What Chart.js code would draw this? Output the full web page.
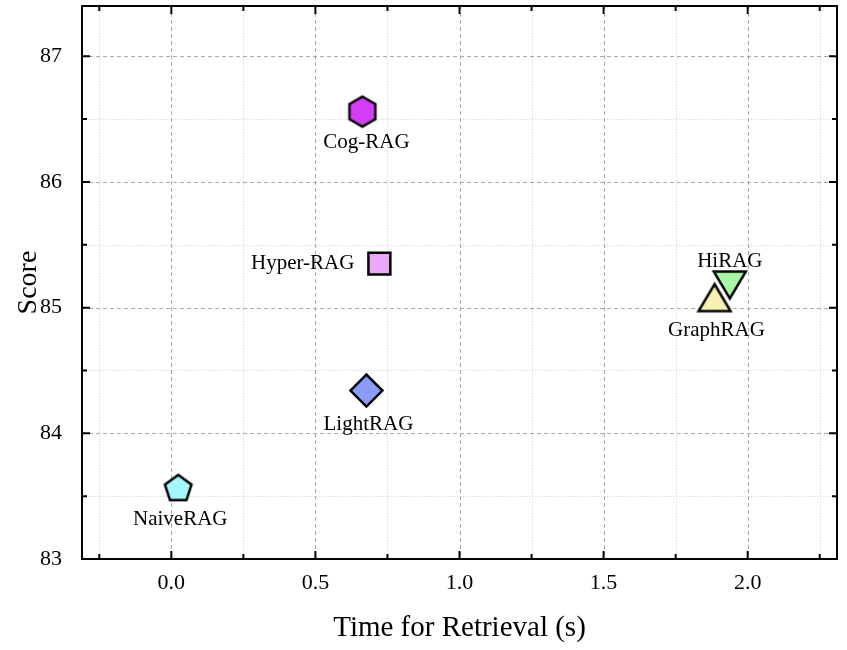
<!DOCTYPE html>
<html>
<head>
<meta charset="utf-8">
<script src="https://cdn.jsdelivr.net/npm/chart.js@4.4.1/dist/chart.umd.min.js"></script>
<style>
  html, body { margin: 0; padding: 0; background: #fff; }
  #box { width: 847px; height: 650px; }
</style>
</head>
<body>
<div id="box"><canvas id="grafico"></canvas></div>
<script>
// dados
const metodos = ["NaiveRAG", "LightRAG", "Hyper-RAG", "Cog-RAG", "GraphRAG", "HiRAG"];
const tempoRecuperacao = [0.024, 0.677, 0.722, 0.663, 1.885, 1.938];
const pontuacao = [83.57, 84.34, 85.35, 86.56, 85.08, 85.18];
const ticksX = [0, 0.5, 1, 1.5, 2];
const ticksY = [83, 84, 85, 86, 87];
const ticksXMenor = [-0.25, 0.25, 0.75, 1.25, 1.75, 2.25];
const ticksYMenor = [83.5, 84.5, 85.5, 86.5];

// estilo de cada marcador
const cores = ["#a6f7fb", "#8b9cf8", "#eaa8f7", "#d43ef6", "#f7f1b5", "#a8f7ab"];
const formas = ["pentagono", "rectRot", "rect", "hexagono", "trianguloCima", "trianguloBaixo"];
const raios = [14, 16, 15.5, 15, 16, 16];
// posição do rótulo em relação ao ponto (dx, dy)
const rotulosPos = [[2, 32], [2, 34], [-25, 0], [4, 31], [2, 33], [0, -24]];

const fonte = "'Liberation Serif', 'DejaVu Serif', serif";

function criaPoligono(lados, raio, cor) {
  const tam = raio * 2 + 6;
  const c = document.createElement("canvas");
  c.width = tam;
  c.height = tam;
  const ctx = c.getContext("2d");
  ctx.beginPath();
  for (let i = 0; i < lados; i++) {
    const ang = -Math.PI / 2 + (i * 2 * Math.PI) / lados;
    const px = tam / 2 + raio * Math.cos(ang);
    const py = tam / 2 + raio * Math.sin(ang) + (lados === 5 ? 1.5 : 0);
    if (i === 0) ctx.moveTo(px, py);
    else ctx.lineTo(px, py);
  }
  ctx.closePath();
  ctx.fillStyle = cor;
  ctx.fill();
  ctx.lineWidth = 2.5;
  ctx.strokeStyle = "#000";
  ctx.stroke();
  return c;
}

// triângulo centrado pela caixa, como no matplotlib
function criaTriangulo(raio, cor, paraBaixo) {
  const tam = raio * 2 + 6;
  const c = document.createElement("canvas");
  c.width = tam;
  c.height = tam;
  const ctx = c.getContext("2d");
  const m = tam / 2;
  const h = raio * 0.84;
  const s = paraBaixo ? -1 : 1;
  ctx.beginPath();
  ctx.moveTo(m, m - s * h);
  ctx.lineTo(m - raio, m + s * h);
  ctx.lineTo(m + raio, m + s * h);
  ctx.closePath();
  ctx.fillStyle = cor;
  ctx.fill();
  ctx.lineWidth = 2.5;
  ctx.strokeStyle = "#000";
  ctx.stroke();
  return c;
}

const datasets = metodos.map((nome, i) => {
  let estilo = formas[i];
  if (estilo === "pentagono") estilo = criaPoligono(5, raios[i], cores[i]);
  if (estilo === "hexagono") estilo = criaPoligono(6, raios[i], cores[i]);
  if (estilo === "trianguloCima") estilo = criaTriangulo(raios[i], cores[i], false);
  if (estilo === "trianguloBaixo") estilo = criaTriangulo(raios[i], cores[i], true);
  return {
    label: nome,
    data: [{ x: tempoRecuperacao[i], y: pontuacao[i] }],
    pointStyle: estilo,
    radius: raios[i],
    hoverRadius: raios[i],
    backgroundColor: cores[i],
    borderColor: "#000",
    borderWidth: 2.5,
  };
});

const moldura = {
  id: "moldura",
  beforeDatasetsDraw(chart) {
    const { ctx, chartArea: a, scales } = chart;
    const sx = scales.x, sy = scales.y;
    ctx.save();
    ctx.lineWidth = 1;
    // grade menor pontilhada
    ctx.strokeStyle = "#dcdcdc";
    ctx.setLineDash([1.5, 1.5]);
    ticksXMenor.forEach((v) => {
      const px = Math.round(sx.getPixelForValue(v)) + 0.5;
      ctx.beginPath(); ctx.moveTo(px, a.top); ctx.lineTo(px, a.bottom); ctx.stroke();
    });
    ticksYMenor.forEach((v) => {
      const py = Math.round(sy.getPixelForValue(v)) + 0.5;
      ctx.beginPath(); ctx.moveTo(a.left, py); ctx.lineTo(a.right, py); ctx.stroke();
    });
    // grade maior tracejada
    ctx.strokeStyle = "#a8a8a8";
    ctx.setLineDash([4, 3]);
    ticksX.forEach((v) => {
      const px = Math.round(sx.getPixelForValue(v)) + 0.5;
      ctx.beginPath(); ctx.moveTo(px, a.top); ctx.lineTo(px, a.bottom); ctx.stroke();
    });
    ticksY.forEach((v) => {
      const py = Math.round(sy.getPixelForValue(v)) + 0.5;
      ctx.beginPath(); ctx.moveTo(a.left, py); ctx.lineTo(a.right, py); ctx.stroke();
    });
    ctx.restore();
  },
  afterDraw(chart) {
    const { ctx, chartArea: a, scales } = chart;
    const sx = scales.x, sy = scales.y;
    ctx.save();
    ctx.strokeStyle = "#000";
    ctx.setLineDash([]);
    ctx.lineWidth = 2;
    ctx.strokeRect(a.left, a.top, a.right - a.left, a.bottom - a.top);
    // marcas para dentro nos quatro lados
    const marca = (lista, comp) => {
      lista.forEach((v) => {
        const px = sx.getPixelForValue(v);
        ctx.beginPath();
        ctx.moveTo(px, a.bottom); ctx.lineTo(px, a.bottom - comp);
        ctx.moveTo(px, a.top); ctx.lineTo(px, a.top + comp);
        ctx.stroke();
      });
    };
    const marcaY = (lista, comp) => {
      lista.forEach((v) => {
        const py = sy.getPixelForValue(v);
        ctx.beginPath();
        ctx.moveTo(a.left, py); ctx.lineTo(a.left + comp, py);
        ctx.moveTo(a.right, py); ctx.lineTo(a.right - comp, py);
        ctx.stroke();
      });
    };
    marca(ticksX, 8);
    marca(ticksXMenor, 5);
    marcaY(ticksY.filter((v) => v > 83), 8);
    marcaY(ticksYMenor, 5);
    ctx.restore();
  },
  afterDatasetsDraw(chart) {
    const { ctx } = chart;
    ctx.save();
    ctx.font = "21px " + fonte;
    ctx.fillStyle = "#000";
    ctx.textBaseline = "middle";
    metodos.forEach((nome, i) => {
      const el = chart.getDatasetMeta(i).data[0];
      const [dx, dy] = rotulosPos[i];
      ctx.textAlign = dx < -20 ? "right" : "center";
      ctx.fillText(nome, el.x + dx, el.y + dy);
    });
    ctx.restore();
  },
};

new Chart(document.getElementById("grafico"), {
  type: "scatter",
  data: { datasets },
  plugins: [moldura],
  options: {
    responsive: true,
    maintainAspectRatio: false,
    animation: false,
    layout: { autoPadding: false, padding: { left: 0, right: 10, top: 6, bottom: 0 } },
    plugins: {
      legend: { display: false },
      tooltip: { enabled: false },
    },
    scales: {
      x: {
        type: "linear",
        min: -0.31,
        max: 2.31,
        afterBuildTicks: (s) => { s.ticks = ticksX.map((v) => ({ value: v })); },
        afterFit: (s) => { s.height = 91; s.paddingLeft = 0; s.paddingRight = 0; },
        grid: { display: false, drawTicks: false },
        border: { display: false },
        ticks: {
          padding: 11,
          color: "#000",
          font: { family: fonte, size: 22 },
          callback: (v) => v.toFixed(1),
        },
        title: {
          display: true,
          text: "Time for Retrieval (s)",
          color: "#000",
          font: { family: fonte, size: 29 },
          padding: { top: 12 },
        },
      },
      y: {
        type: "linear",
        min: 83,
        max: 87.4,
        afterBuildTicks: (s) => { s.ticks = ticksY.map((v) => ({ value: v })); },
        afterFit: (s) => { s.width = 82; s.paddingTop = 0; s.paddingBottom = 0; },
        grid: { display: false, drawTicks: false },
        border: { display: false },
        ticks: {
          padding: 20,
          color: "#000",
          font: { family: fonte, size: 22 },
        },
        title: {
          display: true,
          text: "Score",
          color: "#000",
          font: { family: fonte, size: 28 },
          padding: { bottom: 0, top: 12 },
        },
      },
    },
  },
});
</script>
</body>
</html>
